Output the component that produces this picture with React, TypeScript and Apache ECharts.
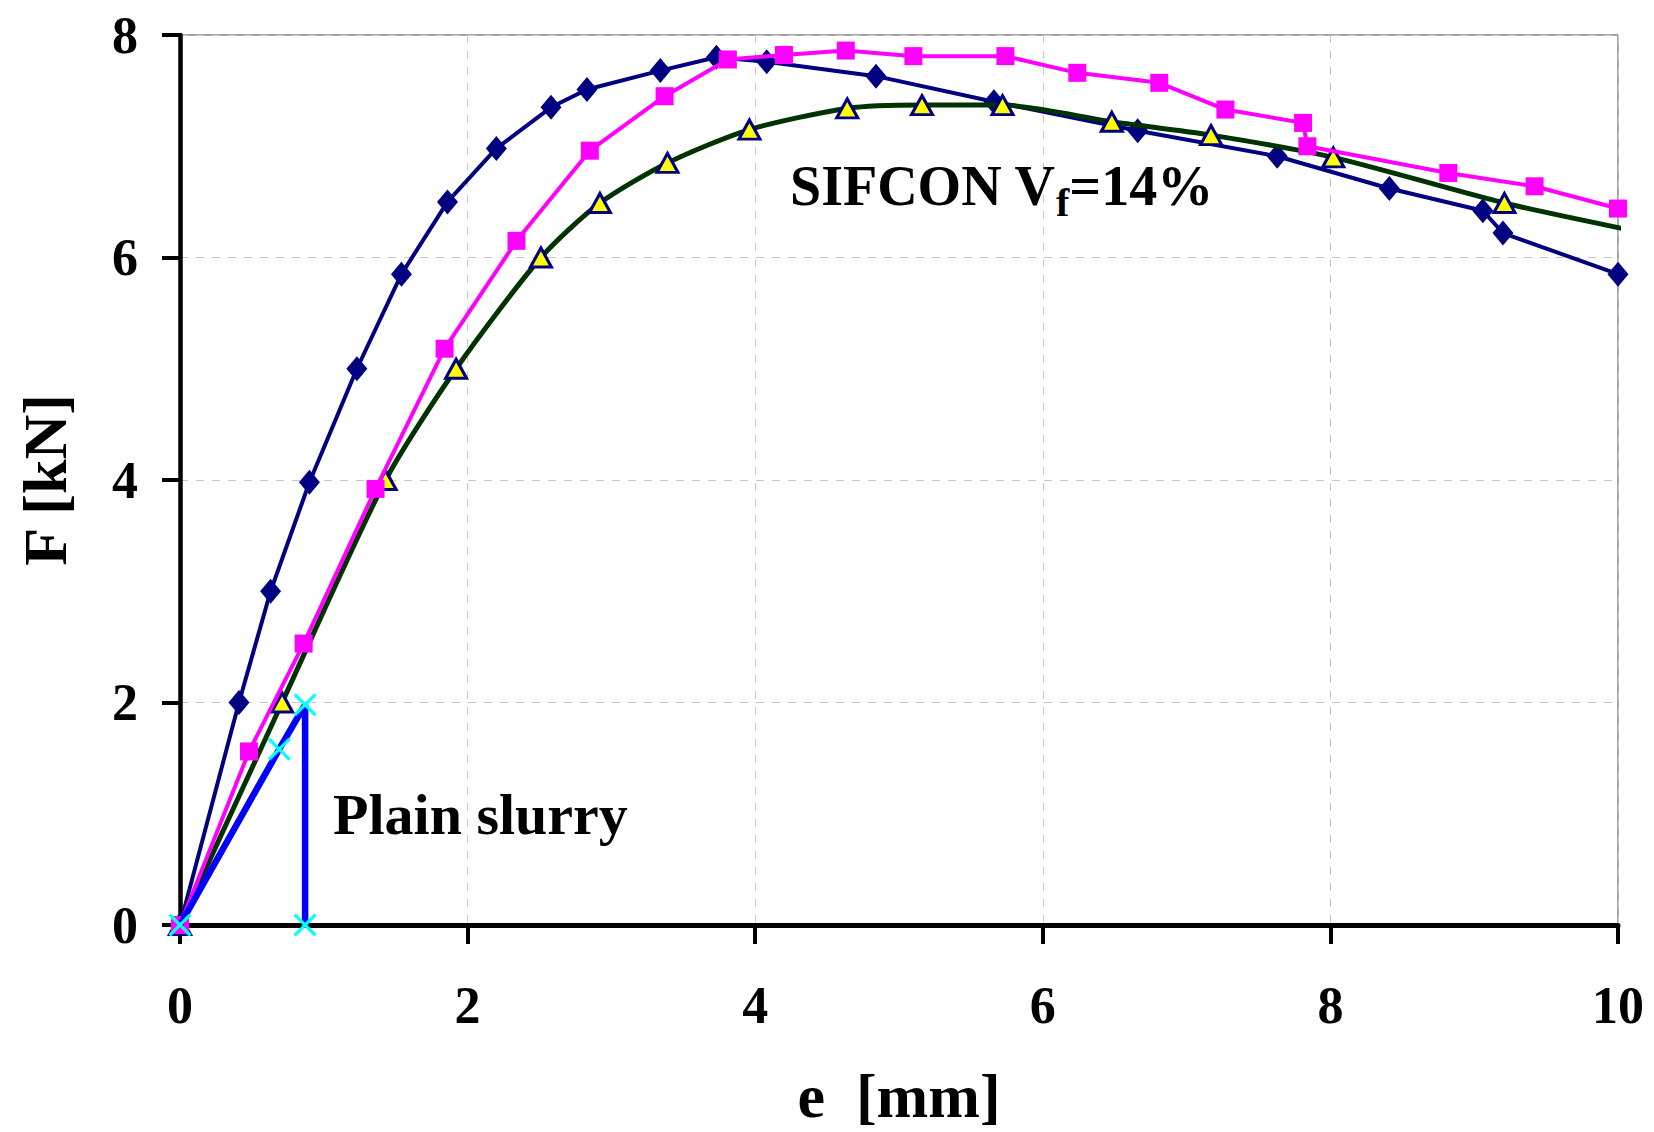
import React, { useEffect, useRef } from "react";
import * as echarts from "echarts";

// SIFCON series 1 (navy diamonds)
const diamondE = [0, 0.41, 0.63, 0.9, 1.23, 1.54, 1.86, 2.2, 2.58, 2.83, 3.34, 3.73, 4.08, 4.84, 5.66, 6.66, 7.63, 8.41, 9.06, 9.2, 10.0];
const diamondF = [0, 2.0, 3.0, 3.98, 5.0, 5.85, 6.5, 6.98, 7.35, 7.51, 7.68, 7.8, 7.76, 7.63, 7.4, 7.14, 6.91, 6.62, 6.42, 6.22, 5.85];

// SIFCON series 2 (magenta squares)
const squareE = [0, 0.48, 0.86, 1.36, 1.84, 2.34, 2.85, 3.37, 3.81, 4.2, 4.63, 5.1, 5.74, 6.24, 6.81, 7.27, 7.81, 7.84, 8.82, 9.42, 10.0];
const squareF = [0, 1.56, 2.53, 3.92, 5.18, 6.15, 6.96, 7.45, 7.78, 7.82, 7.86, 7.81, 7.81, 7.66, 7.57, 7.33, 7.21, 7.0, 6.76, 6.64, 6.44];

// SIFCON series 3 (yellow triangles, dark green smoothed line)
const triangleE = [0, 0.71, 1.43, 1.92, 2.51, 2.92, 3.39, 3.96, 4.64, 5.16, 5.72, 6.48, 7.17, 8.02, 9.21];
const triangleF = [0, 2.0, 4.0, 5.0, 6.0, 6.49, 6.85, 7.15, 7.34, 7.37, 7.37, 7.22, 7.1, 6.9, 6.49];
const triangleLineEndE = 10.07;
const triangleLineEndF = 6.25;

// Plain slurry (cyan crosses, blue line)
const plainE = [0, 0.69, 0.87, 0.87];
const plainF = [0, 1.58, 1.98, 0];

const xTicks = { min: 0, max: 10, interval: 2 };
const yTicks = { min: 0, max: 8, interval: 2 };

const xTitle = "e  [mm]";
const yTitle = "F [kN]";
const noteSifcon = ["SIFCON V", "f", "=14%"];
const notePlain = "Plain slurry";

const FONT = "'Times New Roman', 'Liberation Serif', serif";
const CROSS = "path://M0,1 L1,0 L5,4 L9,0 L10,1 L6,5 L10,9 L9,10 L5,6 L1,10 L0,9 L4,5 Z";

const zip = (a: number[], b: number[]) => a.map((v, i) => [v, b[i]]);

export default function App() {
  const ref = useRef<HTMLDivElement>(null);
  useEffect(() => {
    document.body.style.margin = "0";
    if (!ref.current) return;
    const chart = echarts.init(ref.current, undefined, { renderer: "svg" });
    const axisLabel = { fontFamily: FONT, fontSize: 52, fontWeight: "bold", color: "#000" };
    const triData: any[] = zip(triangleE, triangleF);
    triData.push({ value: [triangleLineEndE, triangleLineEndF], symbol: "none" });
    chart.setOption({
      animation: false,
      backgroundColor: "#fff",
      grid: {
        left: 180,
        right: 36,
        top: 35,
        bottom: 207,
        outerBoundsMode: "none",
        containLabel: false,
        show: true,
        borderColor: "#8a8a8a",
        borderWidth: 1.5,
        backgroundColor: "transparent",
      },
      xAxis: {
        type: "value",
        ...xTicks,
        name: xTitle,
        nameLocation: "middle",
        nameGap: 140,
        nameTextStyle: { fontFamily: FONT, fontSize: 62, fontWeight: "bold", color: "#000" },
        axisLine: { show: true, onZero: false, lineStyle: { color: "#000", width: 5 } },
        axisTick: { show: true, length: 19, lineStyle: { color: "#000", width: 4 } },
        axisLabel: { ...axisLabel, margin: 54 },
        splitLine: { show: true, lineStyle: { color: "#c8c8c8", width: 1, type: [8, 8] } },
      },
      yAxis: {
        type: "value",
        ...yTicks,
        name: yTitle,
        nameLocation: "middle",
        nameGap: 104,
        nameRotate: 90,
        nameTextStyle: { fontFamily: FONT, fontSize: 62, fontWeight: "bold", color: "#000" },
        axisLine: { show: true, onZero: false, lineStyle: { color: "#000", width: 4.5 } },
        axisTick: { show: true, length: 18, lineStyle: { color: "#000", width: 4 } },
        axisLabel: { ...axisLabel, margin: 42 },
        splitLine: { show: true, lineStyle: { color: "#c8c8c8", width: 1, type: [8, 8] } },
      },
      series: [
        {
          type: "line",
          data: zip(diamondE, diamondF),
          symbol: "diamond",
          symbolSize: [21, 25],
          lineStyle: { color: "#000080", width: 4 },
          itemStyle: { color: "#000080" },
          z: 2,
        },
        {
          type: "line",
          data: triData,
          smooth: 0.25,
          clip: false,
          symbol: "triangle",
          symbolSize: [21, 19],
          lineStyle: { color: "#003300", width: 5 },
          itemStyle: { color: "#ffff00", borderColor: "#000080", borderWidth: 3 },
          z: 3,
        },
        {
          type: "line",
          data: zip(squareE, squareF),
          symbol: "rect",
          symbolSize: 18,
          lineStyle: { color: "#ff00ff", width: 4 },
          itemStyle: { color: "#ff00ff" },
          z: 4,
        },
        {
          type: "line",
          data: zip(plainE, plainF),
          symbol: CROSS,
          symbolSize: 23,
          lineStyle: { color: "#0000ff", width: 6.5 },
          itemStyle: { color: "#00ffff" },
          z: 5,
        },
      ],
      graphic: [
        {
          type: "text",
          x: 790,
          y: 186,
          style: {
            text: `{a|${noteSifcon[0]}}{b|${noteSifcon[1]}}{a|${noteSifcon[2]}}`,
            verticalAlign: "middle",
            rich: {
              a: { fontFamily: FONT, fontSize: 56, fontWeight: "bold", fill: "#000", lineHeight: 72 },
              b: { fontFamily: FONT, fontSize: 40, fontWeight: "bold", fill: "#000", lineHeight: 40, verticalAlign: "bottom" },
            },
          },
          z: 10,
        },
        {
          type: "text",
          x: 333,
          y: 814,
          style: {
            text: notePlain,
            fontFamily: FONT,
            fontSize: 58,
            fontWeight: "bold",
            fill: "#000",
            verticalAlign: "middle",
          },
          z: 10,
        },
      ],
    });
    return () => chart.dispose();
  }, []);
  return <div ref={ref} style={{ width: 1654, height: 1132 }} />;
}
